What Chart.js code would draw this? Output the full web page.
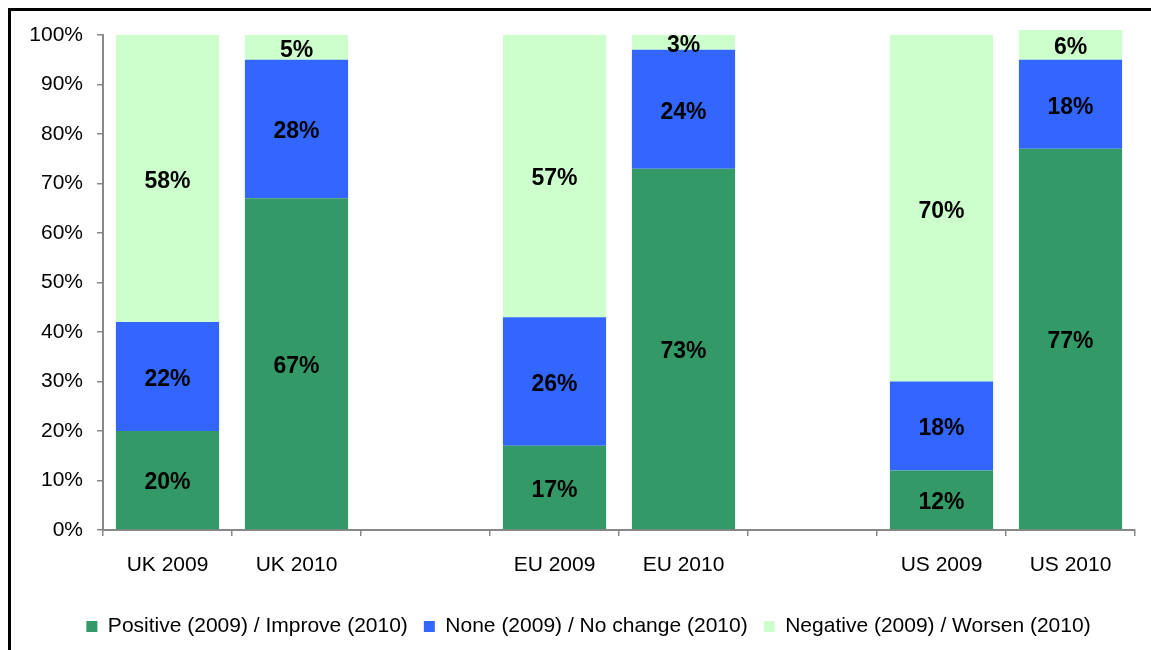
<!DOCTYPE html>
<html>
<head>
<meta charset="utf-8">
<script src="https://cdn.jsdelivr.net/npm/chart.js@4/dist/chart.umd.min.js"></script>
<style>
  html, body { margin: 0; padding: 0; background: #fff; }
  #wrap { width: 1151px; height: 650px; position: relative; }
</style>
</head>
<body>
<div id="wrap"><canvas id="c" width="1151" height="650"></canvas></div>
<script>
const categories = ['UK 2009', 'UK 2010', '', 'EU 2009', 'EU 2010', '', 'US 2009', 'US 2010'];
const positiveValues = [20, 67, null, 17, 73, null, 12, 77];
const noneValues     = [22, 28, null, 26, 24, null, 18, 18];
const negativeValues = [58, 5, null, 57, 3, null, 70, 6];
const seriesNames = ['Positive (2009) / Improve (2010)', 'None (2009) / No change (2010)', 'Negative (2009) / Worsen (2010)'];
const yTicks = [0, 10, 20, 30, 40, 50, 60, 70, 80, 90, 100];

const FONT = '"Liberation Sans", Arial, sans-serif';

const framePlugin = {
  id: 'frame',
  beforeDraw(chart) {
    const ctx = chart.ctx;
    ctx.save();
    ctx.fillStyle = '#fff';
    ctx.fillRect(0, 0, chart.width, chart.height);
    ctx.strokeStyle = '#000';
    ctx.lineWidth = 3;
    ctx.beginPath();
    ctx.moveTo(9.5, chart.height + 5);
    ctx.lineTo(9.5, 9.5);
    ctx.lineTo(chart.width + 5, 9.5);
    ctx.stroke();
    ctx.restore();
  }
};

const legendShift = {
  id: 'legendShift',
  afterLayout(chart) {
    if (chart.legend) {
      chart.legend.left += 21;
      chart.legend.right += 21;
    }
  }
};

const labelPlugin = {
  id: 'segLabels',
  afterDatasetsDraw(chart) {
    const ctx = chart.ctx;
    ctx.save();
    ctx.font = 'bold 23px ' + FONT;
    ctx.fillStyle = '#000';
    ctx.textAlign = 'center';
    ctx.textBaseline = 'middle';
    chart.data.datasets.forEach((ds, di) => {
      const meta = chart.getDatasetMeta(di);
      meta.data.forEach((bar, i) => {
        const v = ds.data[i];
        if (v === null || v === undefined) return;
        const p = bar.getProps(['x', 'y', 'base'], true);
        ctx.fillText(v + '%', p.x, (p.y + p.base) / 2 + 3);
      });
    });
    ctx.restore();
  }
};

new Chart(document.getElementById('c'), {
  type: 'bar',
  data: {
    labels: categories,
    datasets: [
      { label: seriesNames[0], data: positiveValues, backgroundColor: '#339966', clip: false },
      { label: seriesNames[1], data: noneValues, backgroundColor: '#3366FF', clip: false },
      { label: seriesNames[2], data: negativeValues, backgroundColor: '#CCFFCC', clip: false }
    ]
  },
  options: {
    responsive: false,
    animation: false,
    devicePixelRatio: 1,
    layout: { padding: { top: 35, right: 16, left: 0, bottom: 3 } },
    datasets: { bar: { barPercentage: 0.8, categoryPercentage: 1.0, borderWidth: 0 } },
    plugins: {
      tooltip: { enabled: false },
      legend: {
        position: 'bottom',
        labels: {
          font: { family: FONT, size: 21 },
          color: '#000',
          boxWidth: 11,
          boxHeight: 11,
          padding: 16
        }
      }
    },
    scales: {
      x: {
        stacked: true,
        grid: { display: true, drawOnChartArea: false, offset: true, tickLength: 6, color: '#888', lineWidth: 1.5 },
        border: { color: '#888', width: 2 },
        ticks: { font: { family: FONT, size: 21 }, color: '#000', padding: 17, maxRotation: 0, autoSkip: false },
        afterFit(scale) { scale.height = 70; }
      },
      y: {
        stacked: true,
        min: 0,
        max: 100,
        afterBuildTicks(scale) { scale.ticks = yTicks.map(v => ({ value: v })); },
        grid: { display: true, drawOnChartArea: false, tickLength: 6, color: '#888', lineWidth: 1.5 },
        border: { color: '#888', width: 2 },
        ticks: { font: { family: FONT, size: 21 }, color: '#000', padding: 14, callback: v => v + '%' },
        afterFit(scale) { scale.width = 103; }
      }
    }
  },
  plugins: [framePlugin, legendShift, labelPlugin]
});
</script>
</body>
</html>
